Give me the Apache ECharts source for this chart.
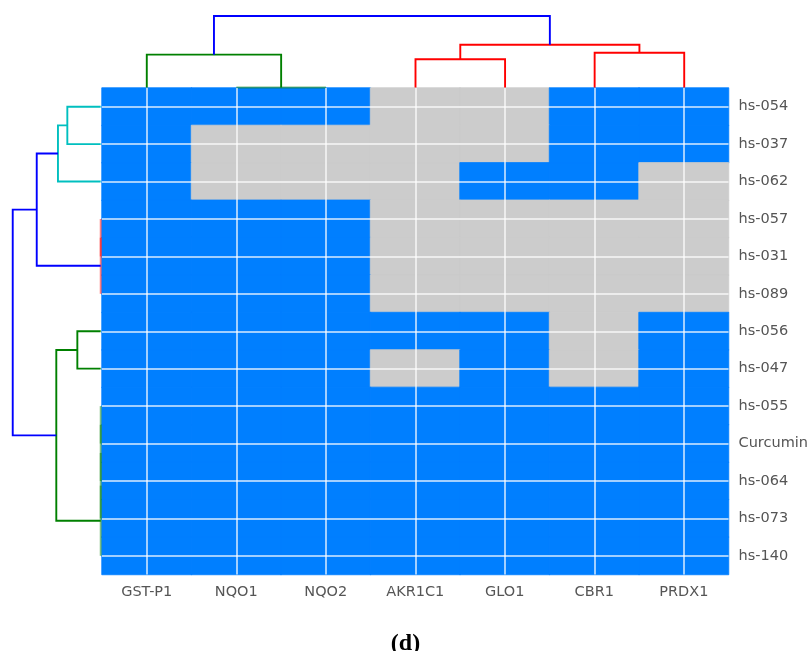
<!DOCTYPE html>
<html>
<head>
<meta charset="utf-8">
<title>Clustered activity map</title>
<script src="https://cdn.jsdelivr.net/npm/echarts@6/dist/echarts.min.js"></script>
<style>
  html, body { margin: 0; padding: 0; background: #fff; }
  #chart { width: 811px; height: 651px; }
</style>
</head>
<body>
<div id="chart"></div>
<script>
// Enzyme targets (columns) and compounds (rows), in clustered order
const columns = ['GST-P1', 'NQO1', 'NQO2', 'AKR1C1', 'GLO1', 'CBR1', 'PRDX1'];
const rows = ['hs-054', 'hs-037', 'hs-062', 'hs-057', 'hs-031', 'hs-089',
              'hs-056', 'hs-047', 'hs-055', 'Curcumin', 'hs-064', 'hs-073', 'hs-140'];

// 1 = active (blue), 0 = inactive (grey); one list per compound row
const hs054    = [1, 1, 1, 0, 0, 1, 1];
const hs037    = [1, 0, 0, 0, 0, 1, 1];
const hs062    = [1, 0, 0, 0, 1, 1, 0];
const hs057    = [1, 1, 1, 0, 0, 0, 0];
const hs031    = [1, 1, 1, 0, 0, 0, 0];
const hs089    = [1, 1, 1, 0, 0, 0, 0];
const hs056    = [1, 1, 1, 1, 1, 0, 1];
const hs047    = [1, 1, 1, 0, 1, 0, 1];
const hs055    = [1, 1, 1, 1, 1, 1, 1];
const curcumin = [1, 1, 1, 1, 1, 1, 1];
const hs064    = [1, 1, 1, 1, 1, 1, 1];
const hs073    = [1, 1, 1, 1, 1, 1, 1];
const hs140    = [1, 1, 1, 1, 1, 1, 1];
const matrix = [hs054, hs037, hs062, hs057, hs031, hs089, hs056, hs047,
                hs055, curcumin, hs064, hs073, hs140];

// Dendrogram links: [leftPos, leftHeight, rightPos, rightHeight, joinHeight, colour]
// positions are leaf indices (or the midpoint of a merged cluster)
const columnLinks = [
  [1, 0, 2, 0, 0, 'g'],
  [0, 0, 1.5, 0, 0.413, 'g'],
  [3, 0, 4, 0, 0.355, 'r'],
  [5, 0, 6, 0, 0.438, 'r'],
  [3.5, 0.355, 5.5, 0.438, 0.538, 'r'],
  [0.75, 0.413, 4.5, 0.538, 0.900, 'b']
];
const rowLinks = [
  [0, 0, 1, 0, 0.360, 'c'],
  [0.5, 0.360, 2, 0, 0.461, 'c'],
  [3, 0, 4, 0, 0, 'r'],
  [3.5, 0, 5, 0, 0, 'r'],
  [1.25, 0.461, 4.25, 0, 0.690, 'b'],
  [6, 0, 7, 0, 0.252, 'g'],
  [8, 0, 9, 0, 0, 'g'],
  [8.5, 0, 10, 0, 0, 'g'],
  [9.25, 0, 11, 0, 0, 'g'],
  [10.125, 0, 12, 0, 0, 'g'],
  [6.5, 0.252, 11.0625, 0, 0.479, 'g'],
  [2.75, 0.690, 8.78125, 0.479, 0.949, 'b']
];

const linkColors = { b: '#0000ff', g: '#008000', r: '#ff0000', c: '#00bfbf' };
const cellColors = ['#cccccc', '#007fff'];

// Each cell gets a same-coloured border so neighbouring cells join without seams
const heatData = [];
matrix.forEach((row, r) => row.forEach((v, c) => heatData.push({
  value: [c, r, v],
  itemStyle: { color: cellColors[v], borderColor: cellColors[v], borderWidth: 0.8 }
})));

// Draws one U-shaped dendrogram link; `horizontal` swaps position/height axes
function linkRenderer(links, horizontal) {
  return function (params, api) {
    const l = links[params.dataIndex];
    const pt = (pos, h) => horizontal ? api.coord([h, pos]) : api.coord([pos, h]);
    const points = [pt(l[0], l[1]), pt(l[0], l[4]), pt(l[2], l[4]), pt(l[2], l[3])];
    return {
      type: 'polyline',
      shape: { points: points },
      style: {
        stroke: linkColors[l[5]],
        lineWidth: 1.9,
        fill: null,
        opacity: l[4] === 0 ? 0.5 : 1
      },
      silent: true
    };
  };
}

const labelStyle = { color: '#555555', fontSize: 14.5, fontFamily: 'DejaVu Sans' };

const chart = echarts.init(document.getElementById('chart'), null, { renderer: 'canvas' });
chart.setOption({
  animation: false,
  backgroundColor: '#ffffff',
  title: {
    text: '(d)',
    left: 'center',
    top: 627,
    textStyle: { fontFamily: 'Liberation Serif', fontWeight: 'bold', fontSize: 24, color: '#000' }
  },
  grid: [
    { left: 102, top: 88, width: 627, height: 486.5 },   // heatmap
    { left: 102, top: 8, width: 627, height: 79.5 },     // column dendrogram
    { left: 8, top: 88, width: 92.7, height: 486.5 }     // row dendrogram
  ],
  xAxis: [
    {
      type: 'category', data: columns, gridIndex: 0, position: 'bottom',
      axisLine: { show: false }, axisTick: { show: false }, splitLine: { show: false },
      axisLabel: Object.assign({ margin: 10 }, labelStyle)
    },
    { type: 'value', gridIndex: 1, min: -0.5, max: 6.5, show: false },
    { type: 'value', gridIndex: 2, min: 0, max: 1, inverse: true, show: false }
  ],
  yAxis: [
    {
      type: 'category', data: rows, gridIndex: 0, position: 'right', inverse: true,
      axisLine: { show: false }, axisTick: { show: false }, splitLine: { show: false },
      axisLabel: Object.assign({ margin: 10, padding: [3, 0, 0, 0] }, labelStyle)
    },
    { type: 'value', gridIndex: 1, min: 0, max: 1, show: false },
    { type: 'value', gridIndex: 2, min: -0.5, max: 12.5, inverse: true, show: false }
  ],
  series: [
    {
      type: 'heatmap',
      xAxisIndex: 0, yAxisIndex: 0,
      data: heatData,
      emphasis: { disabled: true },
      markLine: {
        silent: true,
        symbol: ['none', 'none'],
        label: { show: false },
        lineStyle: { color: 'rgba(255,255,255,0.85)', width: 1.5, type: 'solid' },
        data: columns.map(c => ({ xAxis: c })).concat(rows.map(r => ({ yAxis: r })))
      }
    },
    {
      type: 'custom',
      xAxisIndex: 1, yAxisIndex: 1,
      clip: false,
      data: columnLinks.map(l => [l[0], l[4]]),
      renderItem: linkRenderer(columnLinks, false)
    },
    {
      type: 'custom',
      xAxisIndex: 2, yAxisIndex: 2,
      clip: false,
      data: rowLinks.map(l => [l[4], l[0]]),
      renderItem: linkRenderer(rowLinks, true)
    }
  ]
});
</script>
</body>
</html>
